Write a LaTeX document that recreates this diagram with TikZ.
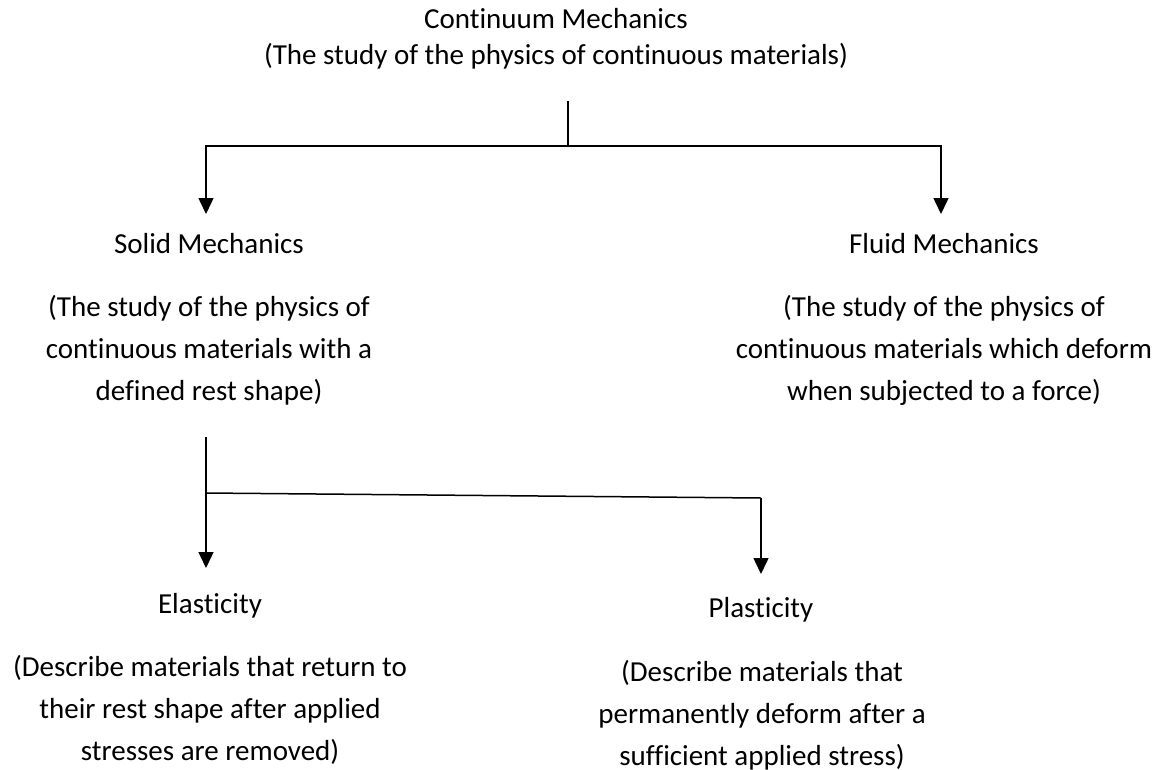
\documentclass[tikz,border=0pt]{standalone}
\usepackage{fontspec}
\setmainfont{Carlito}[Ligatures=NoCommon]
\usetikzlibrary{arrows.meta}
\usetikzlibrary{positioning}

\begin{document}
\begin{tikzpicture}[
  x=1pt, y=-1pt,
  every node/.style={align=center, inner sep=0pt, font=\fontsize{29}{42}\selectfont},
  every path/.style={line width=1.5pt},
  arr/.style={-{Triangle[length=16pt, width=15pt]}},
]
  \useasboundingbox (0,0) rectangle (1165,769);

  % Nodes
  \node[font=\fontsize{29}{36}\selectfont] (cm) at (556, 39) {Continuum Mechanics\\(The study of the physics of continuous materials)};
  \node (solid) at (209, 244) {Solid Mechanics};
  \node (soliddesc) at (209, 350) {(The study of the physics of\\continuous materials with a\\defined rest shape)};
  \node (fluid) at (944, 244) {Fluid Mechanics};
  \node (fluiddesc) at (944, 350) {(The study of the physics of\\continuous materials which deform\\when subjected to a force)};
  \node (elas)  at (210, 606) {Elasticity};
  \node (elasdesc) at (210, 710) {(Describe materials that return to\\their rest shape after applied\\stresses are removed)};
  \node (plas)  at (761, 610) {Plasticity};
  \node (plasdesc) at (762, 715) {(Describe materials that\\permanently deform after a\\sufficient applied stress)};

  % Junctions
  \coordinate (cmtop)  at (568, 101);
  \coordinate (cmjoin) at (568, 146);
  \coordinate (solidtip) at (206, 214);
  \coordinate (fluidtip) at (941, 214);
  \coordinate (sdtop)  at (206, 437);
  \coordinate (sdjoin) at (206, 493);
  \coordinate (plasjoin) at (761, 498);
  \coordinate (elastip) at (206, 568);
  \coordinate (plastip) at (761, 574);

  % Edges
  \draw (cmtop) -- (cmjoin);
  \draw[arr] (cmjoin) -| (solidtip);
  \draw[arr] (cmjoin) -| (fluidtip);
  \draw[arr] (sdtop) -- (elastip);
  \draw (sdjoin) -- (plasjoin);
  \draw[arr] (plasjoin) -- (plastip);

\end{tikzpicture}
\end{document}
